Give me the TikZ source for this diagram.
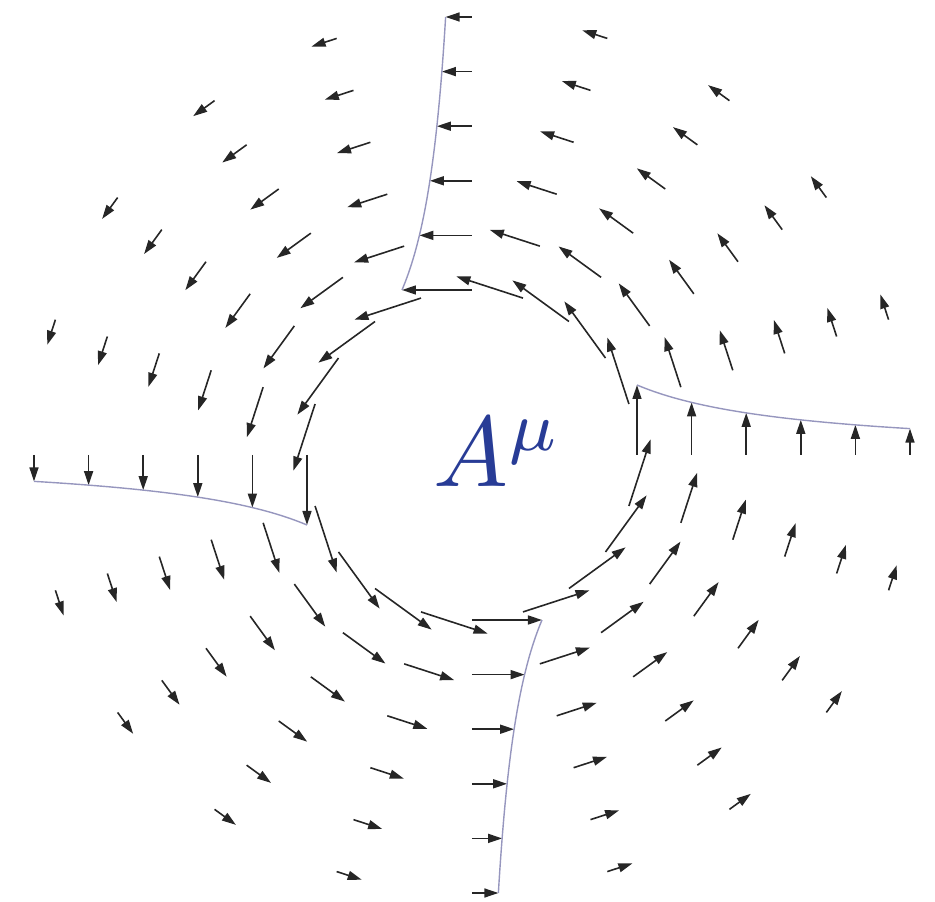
\documentclass[tikz,border=0pt]{standalone}
\usetikzlibrary{arrows.meta}
\definecolor{cutcol}{RGB}{150,150,190}
\definecolor{labcol}{RGB}{40,60,150}
\begin{document}
\begin{tikzpicture}[x=1pt,y=1pt,
  vec/.style={line width=1.6pt, black!85, -{Triangle[length=14pt,width=9pt]}},
  cutline/.style={line width=1.4pt, cutcol}]
\useasboundingbox (-472,-447) rectangle (463,455);
\foreach \k in {0,...,5}{
  \pgfmathsetmacro{\r}{165+54.6*\k}
  \pgfmathsetmacro{\L}{11550/\r}
  \foreach \a in {0,18,...,342}{
    \draw[vec] (\a:\r) -- ++({\a+90}:\L);
  }
}
\foreach \rot in {0,90,180,270}{
  \draw[cutline, rotate=\rot] plot[domain=165:438, samples=50, smooth] (\x,{11550/\x});
}
\node[anchor=base west, text=labcol, scale=10, transform shape, inner sep=0pt] (lab) at (-41,-32) {$A^{\mu}$};
\end{tikzpicture}
\end{document}
